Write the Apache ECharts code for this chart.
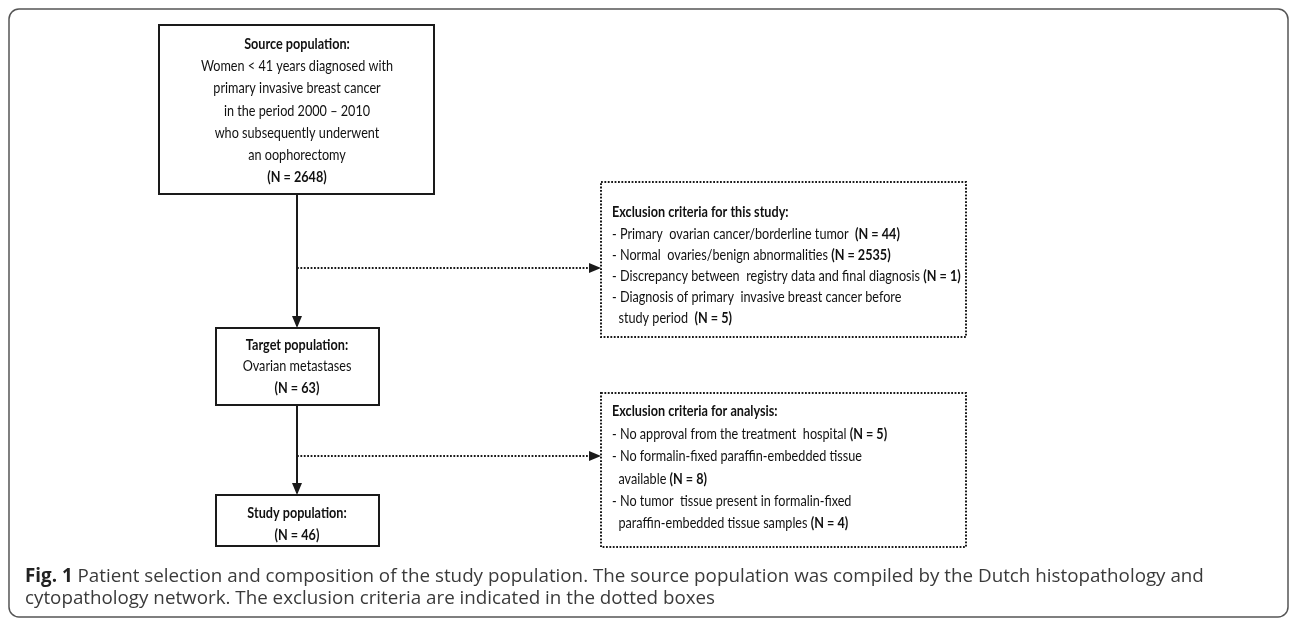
<!DOCTYPE html>
<html><head><meta charset="utf-8">
<script src="https://cdn.jsdelivr.net/npm/echarts@6/dist/echarts.min.js"></script>
<style>html,body{margin:0;padding:0;background:#fff}#c{width:1290px;height:620px}</style>
</head><body><div id="c"></div>
<script>
// ---- Data (text content of the flowchart) ----
var sourceTitle = 'Source population:';
var sourceLines = ['Women < 41 years diagnosed with', 'primary invasive breast cancer', 'in the period 2000 \u2013 2010', 'who subsequently underwent', 'an oophorectomy'];
var sourceN = '(N = 2648)';
var targetTitle = 'Target population:';
var targetLines = ['Ovarian metastases'];
var targetN = '(N = 63)';
var studyTitle = 'Study population:';
var studyN = '(N = 46)';
var excl1Title = 'Exclusion criteria for this study:';
var excl1Items = [
  ['- Primary  ovarian cancer/borderline tumor  ', '(N = 44)'],
  ['- Normal  ovaries/benign abnormalities ', '(N = 2535)'],
  ['- Discrepancy between  registry data and final diagnosis ', '(N = 1)'],
  ['- Diagnosis of primary  invasive breast cancer before', ''],
  ['  study period  ', '(N = 5)']
];
var excl2Title = 'Exclusion criteria for analysis:';
var excl2Items = [
  ['- No approval from the treatment  hospital ', '(N = 5)'],
  ['- No formalin-fixed paraffin-embedded tissue', ''],
  ['  available ', '(N = 8)'],
  ['- No tumor  tissue present in formalin-fixed', ''],
  ['  paraffin-embedded tissue samples ', '(N = 4)']
];
var captionBold = 'Fig. 1';
var captionLines = [' Patient selection and composition of the study population. The source population was compiled by the Dutch histopathology and', 'cytopathology network. The exclusion criteria are indicated in the dotted boxes'];

// ---- Drawing ----
var chart = echarts.init(document.getElementById('c'), null, {renderer: 'canvas'});
var BOXFONT = 'Lato';
var FS = 16;
var SX = 0.79;
var els = [];
function rect(x, y, w, h, dotted) {
  els.push({type: 'rect', shape: {x: x, y: y, width: w, height: h},
    style: {fill: '#fff', stroke: '#1a1a1a', lineWidth: 2, lineDash: dotted ? [1.8, 1.6] : null}});
}
function line(x1, y1, x2, y2, dotted) {
  els.push({type: 'line', shape: {x1: x1, y1: y1, x2: x2, y2: y2},
    style: {stroke: '#1a1a1a', lineWidth: 2, lineDash: dotted ? [1.8, 1.6] : null}});
}
function arrowDown(x, y) {
  els.push({type: 'polygon', shape: {points: [[x - 5, y - 12], [x + 5, y - 12], [x, y]]}, style: {fill: '#1a1a1a'}});
}
function arrowRight(x, y) {
  els.push({type: 'polygon', shape: {points: [[x - 12, y - 5], [x - 12, y + 5], [x, y]]}, style: {fill: '#1a1a1a'}});
}
function txt(x, y, s, bold, align) {
  els.push({type: 'text', x: x, y: y, scaleX: SX, style: {text: s, fontFamily: BOXFONT, fontSize: FS, fontWeight: bold ? 'bold' : 'normal',
    fill: '#111', align: align || 'center', verticalAlign: 'middle'}});
}
function richTxt(x, y, a, b) {
  els.push({type: 'text', x: x, y: y, scaleX: SX, style: {text: a + (b ? '{b|' + b + '}' : ''), fontFamily: BOXFONT, fontSize: FS,
    fill: '#111', align: 'left', verticalAlign: 'middle',
    rich: {b: {fontFamily: BOXFONT, fontSize: FS, fontWeight: 'bold', fill: '#111'}}}});
}

// outer frame
els.push({type: 'rect', shape: {x: 9, y: 9, width: 1279, height: 608, r: 10}, style: {fill: 'none', stroke: '#555', lineWidth: 1.5}});

var cx = 297;
// connectors
line(cx, 194, cx, 326); arrowDown(cx, 328);
line(cx, 405, cx, 493); arrowDown(cx, 495);
line(cx, 268, 590, 268, true); arrowRight(601, 268);
line(cx, 456, 590, 456, true); arrowRight(601, 456);

// solid boxes
rect(159, 25, 275, 169);
txt(cx, 44, sourceTitle, true);
sourceLines.forEach(function (s, i) { txt(cx, 66 + i * 22.2, s, false); });
txt(cx, 177, sourceN, true);

rect(216, 328, 163, 77);
txt(cx, 345, targetTitle, true);
targetLines.forEach(function (s, i) { txt(cx, 366 + i * 22, s, false); });
txt(cx, 388, targetN, true);

rect(216, 495, 163, 51);
txt(cx, 513, studyTitle, true);
txt(cx, 535, studyN, true);

// dotted boxes
rect(601, 182, 365, 155, true);
txt(612, 212, excl1Title, true, 'left');
excl1Items.forEach(function (it, i) { richTxt(612, 234 + i * 21, it[0], it[1]); });

rect(601, 393, 365, 154, true);
txt(612, 411, excl2Title, true, 'left');
excl2Items.forEach(function (it, i) { richTxt(612, 434 + i * 22.3, it[0], it[1]); });

// caption
var CF = 18.8;
els.push({type: 'text', x: 25, y: 577, style: {text: '{b|' + captionBold + '}' + captionLines[0], fontFamily: 'Open Sans', fontSize: CF,
  fill: '#3a3a3a', verticalAlign: 'middle', rich: {b: {fontFamily: 'Open Sans', fontSize: CF, fontWeight: 'bold', fill: '#222'}}}});
els.push({type: 'text', x: 25, y: 599, style: {text: captionLines[1], fontFamily: 'Open Sans', fontSize: CF, fill: '#3a3a3a', verticalAlign: 'middle'}});

chart.setOption({animation: false, backgroundColor: '#fff', graphic: {elements: els}});
</script></body></html>
